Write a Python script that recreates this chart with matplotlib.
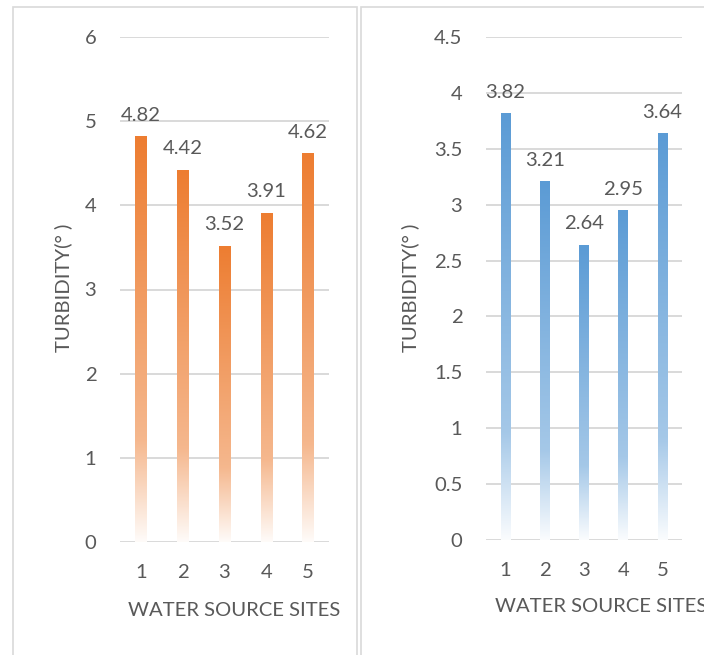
import numpy as np
import matplotlib.pyplot as plt
from matplotlib.patches import Rectangle
from matplotlib.colors import to_rgb

plt.rcParams['font.family'] = ['Lato', 'DejaVu Sans']

sites = ['1', '2', '3', '4', '5']
left_vals = [4.82, 4.42, 3.52, 3.91, 4.62]
right_vals = [3.82, 3.21, 2.64, 2.95, 3.64]
left_ticks = [0, 1, 2, 3, 4, 5, 6]
right_ticks = [0, 0.5, 1, 1.5, 2, 2.5, 3, 3.5, 4, 4.5]

W, H = 704, 655
txt = '#595959'
grid = '#d0d0d0'
fs = 14.6

fig = plt.figure(figsize=(W / 100, H / 100), dpi=100)

# panel frames
fig.add_artist(Rectangle((13 / W, -0.05), 344 / W, 1.05 - 7 / H, transform=fig.transFigure,
                         fill=False, edgecolor='#d9d9d9', lw=1.2))
fig.add_artist(Rectangle((361 / W, -0.05), 400 / W, 1.05 - 7 / H, transform=fig.transFigure,
                         fill=False, edgecolor='#d9d9d9', lw=1.2))


def gradient_img(color, n=200):
    c = np.array(to_rgb(color))
    t = np.linspace(0, 1, n)
    w = np.interp(t, [0, 0.75, 1.0], [0.0, 0.45, 0.97])
    rgb = c[None, :] * (1 - w[:, None]) + w[:, None]
    return rgb[:, None, :]


def panel(rect, vals, ticks, ymax, color, width):
    ax = fig.add_axes(rect)
    x = np.arange(len(vals))
    bars = ax.bar(x, vals, width=width, color='none', zorder=3)
    img = gradient_img(color)
    for b in bars:
        x0, y0 = b.get_x(), b.get_y()
        im = ax.imshow(img, extent=[x0, x0 + b.get_width(), y0, y0 + b.get_height()],
                       aspect='auto', zorder=3, interpolation='bilinear')
        im.set_clip_path(b)
    for xi, v in zip(x, vals):
        ax.annotate(f'{v:.2f}', (xi, v), xytext=(0, 9), textcoords='offset points',
                    ha='center', va='bottom', fontsize=fs, color=txt)
    ax.set_xlim(-0.5, len(vals) - 0.5)
    ax.set_ylim(0, ymax)
    ax.set_yticks(ticks)
    ax.set_yticklabels([f'{t:g}' for t in ticks])
    ax.set_xticks(x)
    ax.set_xticklabels(sites)
    ax.tick_params(length=0, labelsize=fs, labelcolor=txt)
    ax.tick_params(axis='y', pad=17)
    ax.tick_params(axis='x', pad=16)
    for s in ax.spines.values():
        s.set_visible(False)
    ax.yaxis.grid(True, color=grid, lw=1.1, zorder=0)
    ax.set_axisbelow(True)
    ax.patch.set_visible(False)
    return ax


panel([120 / W, 1 - 542 / H, 209 / W, 505 / H], left_vals, left_ticks, 6, '#ED7D31', 0.27)
panel([486 / W, 1 - 540 / H, 196 / W, 503 / H], right_vals, right_ticks, 4.5, '#5B9BD5', 0.24)

fig.text(234 / W, 1 - 611 / H, 'WATER SOURCE SITES', ha='center', va='center', fontsize=fs, color=txt)
fig.text(495 / W, 1 - 607 / H, 'WATER SOURCE SITES', ha='left', va='center', fontsize=fs, color=txt)
fig.text(63 / W, 1 - 288 / H, 'TURBIDITY(° )', rotation=90, ha='center', va='center', fontsize=fs, color=txt)
fig.text(410 / W, 1 - 288 / H, 'TURBIDITY(° )', rotation=90, ha='center', va='center', fontsize=fs, color=txt)

fig.savefig('out.png', dpi=100)
